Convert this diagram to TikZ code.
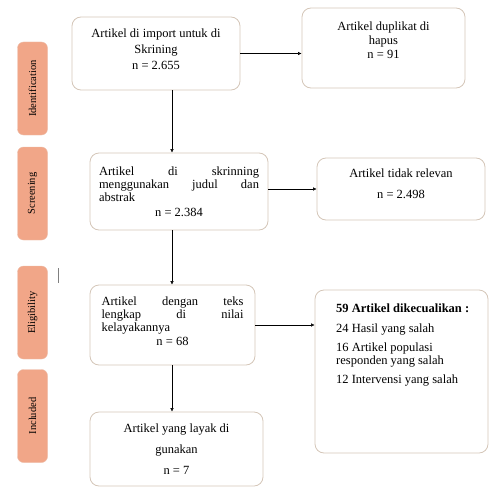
\documentclass[tikz,border=0pt]{standalone}
\usepackage{fontspec}
\setmainfont{Liberation Serif}
\usetikzlibrary{arrows.meta}
\definecolor{stagefill}{RGB}{241,166,136}
\definecolor{stageline}{RGB}{236,190,170}
\definecolor{boxline}{RGB}{212,198,184}
\begin{document}
\begin{tikzpicture}[x=1pt,y=-1pt,
        stage/.style={draw=stageline,fill=stagefill,rounded corners=6pt,
            minimum width=30pt,minimum height=93pt,inner sep=0pt},
        stagetext/.style={rotate=90,font=\fontsize{10.5}{12}\selectfont},
        flowbox/.style={draw=boxline,line width=0.8pt,rounded corners=9pt,
            inner sep=4pt,font=\fontsize{12.5}{15}\selectfont},
        flow/.style={line width=0.5pt,-{Latex[length=3.5pt,width=3.5pt]}}]
    \useasboundingbox (0,0) rectangle (489,487);
    % stages on the left
    \node[stage] (sid) at (32.5,88.5) {};
    \node[stagetext] (tid) at (sid) {Identification};
    \node[stage] (ssc) at (32.5,193.5) {};
    \node[stagetext] (tsc) at (ssc) {Screening};
    \node[stage] (sel) at (32.5,312.5) {};
    \node[stagetext] (tel) at (sel) {Eligibility};
    \node[stage] (sin) at (32.5,416) {};
    \node[stagetext] (tin) at (sin) {Included};
    \draw[gray,line width=0.8pt] (58,268) -- (58,283);
    % main column
    \coordinate (spine) at (172,0);
    \node[flowbox,minimum width=168pt,minimum height=73pt,align=center,
        font=\fontsize{12.5}{16}\selectfont] (imp) at (156,53.5)
        {Artikel di import untuk di\\ Skrining\\ n = 2.655\\[-8pt]};
    \node[flowbox,minimum width=178pt,minimum height=77pt,text width=160pt,align=justify,
        font=\fontsize{12.5}{13}\selectfont] (scr) at (179,191.5)
        {Artikel di skrinning\linebreak menggunakan judul dan\linebreak abstrak\par
        \vspace{2pt}\centering n = 2.384\par};
    \node[flowbox,minimum width=165pt,minimum height=80pt,text width=142pt,align=justify,
        font=\fontsize{12.5}{13}\selectfont] (elig) at (172.5,325)
        {Artikel dengan teks\linebreak lengkap di nilai\linebreak kelayakannya\par
        \vspace{1pt}\centering n = 68\par\vspace{-5pt}\mbox{}};
    \node[flowbox,minimum width=173pt,minimum height=74pt,align=center,
        font=\fontsize{12.5}{21}\selectfont] (fin) at (176.5,449)
        {Artikel yang layak di\\ gunakan\\ n = 7};
    % right column
    \node[flowbox,minimum width=163pt,minimum height=80pt,align=center,
        font=\fontsize{12.5}{14}\selectfont] (dup) at (383.5,48)
        {Artikel duplikat di\\ hapus\\ n = 91\\[2pt]};
    \node[flowbox,minimum width=168pt,minimum height=62pt,align=center,
        font=\fontsize{12.5}{21}\selectfont] (irr) at (401,189)
        {Artikel tidak relevan\\ n = 2.498\\[-10pt]};
    \node[flowbox,minimum width=173pt,minimum height=163pt] (excl) at (401.5,371.5) {};
    \node[anchor=north west,align=left,inner sep=0pt,
        font=\fontsize{12.5}{12.5}\selectfont] (exclnote) at (336,304)
        {\textbf{59 Artikel dikecualikan :}\\[7pt]
        24 Hasil yang salah\\[7pt]
        16 Artikel populasi\\ responden yang salah\\[7pt]
        12 Intervensi yang salah};
    % connectors
    \draw[flow] (imp.south -| spine) -- (scr.north -| spine);
    \draw[flow] (scr.south -| spine) -- (elig.north -| spine);
    \draw[flow] (elig.south -| spine) -- (fin.north -| spine);
    \draw[flow] (imp.east) -- (imp.east -| dup.west);
    \draw[flow] (scr.east |- irr.west) -- (irr.west);
    \draw[flow] (elig.east) -- (elig.east -| excl.west);
\end{tikzpicture}
\end{document}
